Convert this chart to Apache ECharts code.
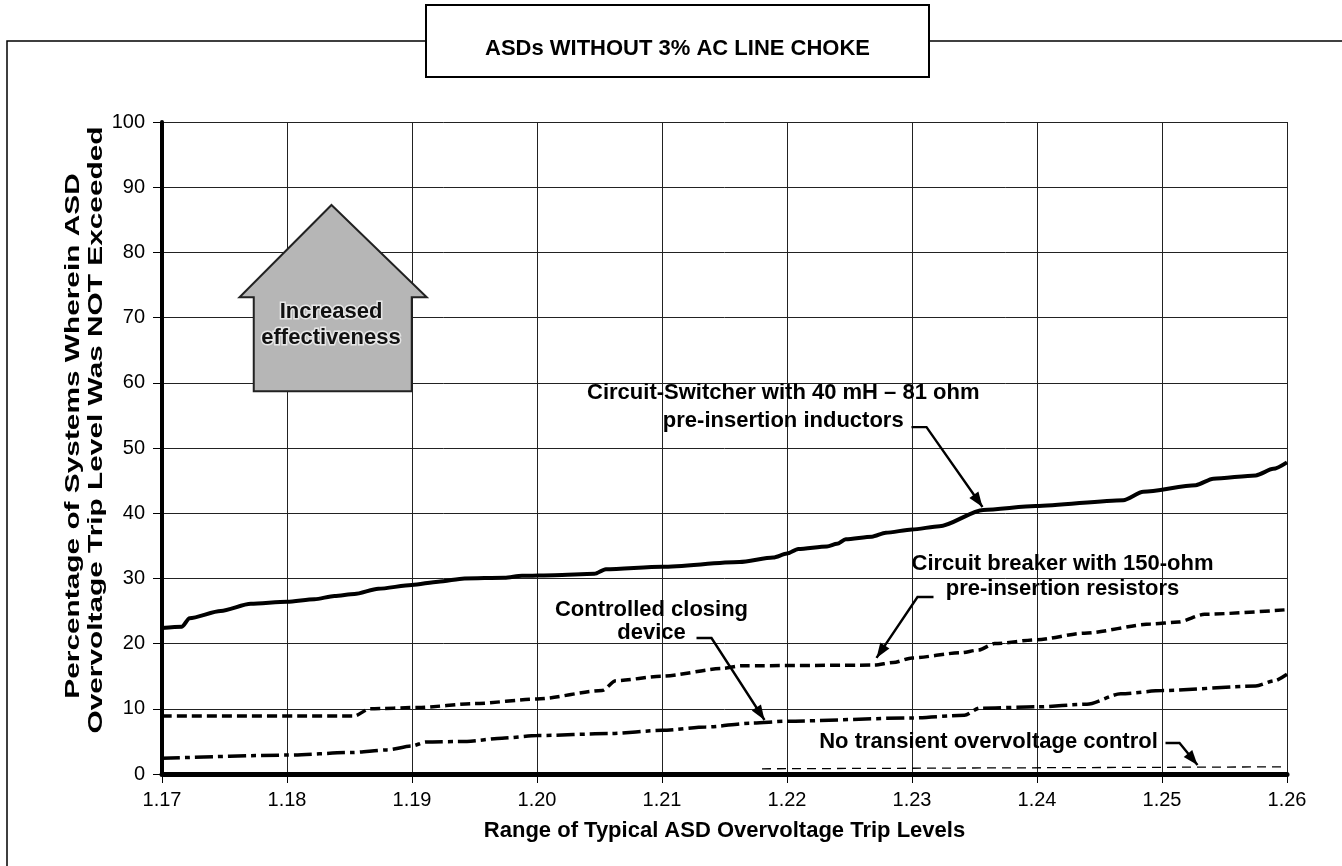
<!DOCTYPE html>
<html><head><meta charset="utf-8">
<script src="https://cdn.jsdelivr.net/npm/echarts@6/dist/echarts.min.js"></script>
<style>html,body{margin:0;padding:0;background:#fff}#c{width:1342px;height:866px}</style>
</head><body><div id="c"></div>
<script>
// ---- data ----
const xTickLabels = ['1.17','1.18','1.19','1.20','1.21','1.22','1.23','1.24','1.25','1.26'];
const yTickLabels = [0,10,20,30,40,50,60,70,80,90,100];

const switcherX = [1.17,1.1716,1.1722,1.1747,1.1771,1.18,1.1822,1.1838,1.1854,1.1873,1.19,1.1921,1.1942,1.1974,1.1988,1.2014,1.2046,1.2055,1.21,1.2162,1.2189,1.22,1.2209,1.2232,1.2240,1.2247,1.2268,1.2279,1.23,1.2322,1.2357,1.2399,1.2469,1.2485,1.2527,1.2541,1.2575,1.2589,1.26];
const switcherY = [22.4,22.6,23.9,25.0,26.1,26.4,26.8,27.3,27.6,28.4,29.0,29.5,30.0,30.1,30.4,30.5,30.7,31.4,31.8,32.5,33.2,33.8,34.5,34.9,35.3,36.0,36.4,37.0,37.5,38.0,40.5,41.1,42.0,43.3,44.3,45.3,45.8,46.8,47.8];

const breakerX = [1.17,1.1854,1.1866,1.1905,1.195,1.20,1.2052,1.2063,1.21,1.2149,1.2163,1.2270,1.2285,1.23,1.2339,1.2353,1.2366,1.24,1.2438,1.2491,1.2513,1.2534,1.26];
const breakerY = [8.9,8.9,10.0,10.2,10.8,11.5,12.8,14.3,15.0,16.2,16.6,16.7,17.1,17.8,18.6,19.0,20.0,20.6,21.6,23.0,23.3,24.5,25.2];

const controlledX = [1.17,1.18,1.1852,1.188,1.19,1.1911,1.1944,1.1972,1.20,1.2058,1.21,1.2135,1.2171,1.22,1.23,1.2342,1.2354,1.24,1.244,1.2467,1.25,1.2575,1.259,1.26];
const controlledY = [2.4,2.9,3.3,3.7,4.3,4.9,5.0,5.5,5.9,6.2,6.7,7.2,7.8,8.1,8.6,9.0,10.1,10.3,10.7,12.3,12.8,13.5,14.3,15.3];

const noControlX = [1.218,1.26];
const noControlY = [0.8,1.1];

const titleText = 'ASDs WITHOUT 3% AC LINE CHOKE';
const xAxisTitle = 'Range of Typical ASD Overvoltage Trip Levels';
const yAxisTitle1 = 'Percentage of Systems Wherein ASD';
const yAxisTitle2 = 'Overvoltage Trip Level Was NOT Exceeded';

// annotations (data coordinates)
const notes = [
  {text:'Circuit-Switcher with 40 mH \u2013 81 ohm\npre-insertion inductors', at:[1.2197,56.3], lh:28,
   leader:[[1.22996,53.2],[1.23116,53.2],[1.23564,40.95]]},
  {text:'Circuit breaker with 150-ohm\npre-insertion resistors', at:[1.24204,30.3], lh:25,
   leader:[[1.23172,27.15],[1.23044,27.15],[1.22716,17.8]]},
  {text:'Controlled closing\ndevice', at:[1.20916,23.4], lh:23,
   leader:[[1.21276,20.86],[1.21396,20.86],[1.2182,8.28]]},
  {text:'No transient overvoltage control', at:[1.23612,4.9], lh:22,
   leader:[[1.25028,4.75],[1.2514,4.75],[1.25284,1.38]]}
];
const house = {apex:[1.18356,87.27], shoulderY:73.11, wingL:1.1762, wingR:1.19118, bodyL:1.17734, bodyR:1.18998, bottom:58.7,
  text:'Increased\neffectiveness', at:[1.18352,68.9]};

const FONT = '"Liberation Sans", Arial, Helvetica, sans-serif';
const pair = (xs, ys) => xs.map((x, i) => [x, ys[i]]);

const chart = echarts.init(document.getElementById('c'), null, {renderer:'canvas'});
chart.setOption({
  animation:false,
  backgroundColor:'#fff',
  grid:{left:162,right:55,top:122,bottom:92,show:false},
  xAxis:{type:'value',min:1.17,max:1.26,interval:0.01,
    axisLine:{show:true,onZero:false,lineStyle:{color:'#000',width:5}},
    axisTick:{show:true,length:9,lineStyle:{color:'#000',width:1}},
    axisLabel:{color:'#000',fontSize:20,fontFamily:FONT,margin:16,
      formatter:(v)=>{const i=Math.round((v-1.17)/0.01);return xTickLabels[i]!==undefined?xTickLabels[i]:'';}},
    splitLine:{show:true,lineStyle:{color:'#222',width:1}}
  },
  yAxis:{type:'value',min:0,max:100,interval:10,
    axisLine:{show:true,lineStyle:{color:'#000',width:4}},
    axisTick:{show:true,length:9,lineStyle:{color:'#000',width:1}},
    axisLabel:{color:'#000',fontSize:20,fontFamily:FONT,margin:17,
      formatter:(v)=>{const i=Math.round(v/10);return yTickLabels[i]!==undefined?String(yTickLabels[i]):'';}},
    splitLine:{show:true,lineStyle:{color:'#222',width:1}}
  },
  series:[
    {name:'Circuit-Switcher',type:'line',data:pair(switcherX,switcherY),showSymbol:false,smooth:0.25,smoothMonotone:'x',
      lineStyle:{color:'#000',width:4}},
    {name:'Circuit breaker',type:'line',data:pair(breakerX,breakerY),showSymbol:false,smooth:0.25,smoothMonotone:'x',
      lineStyle:{color:'#000',width:3.5,type:[10,5]}},
    {name:'Controlled closing',type:'line',data:pair(controlledX,controlledY),showSymbol:false,smooth:0.25,smoothMonotone:'x',
      lineStyle:{color:'#000',width:3.5,type:[18,5,5,5]}},
    {name:'No transient control',type:'line',data:pair(noControlX,noControlY),showSymbol:false,
      lineStyle:{color:'#000',width:1.3,type:[9,6]}}
  ]
});

const P = (d) => chart.convertToPixel({gridIndex:0}, d);
const g = [];
// frame and title box
g.push({type:'polyline',shape:{points:[[7,866],[7,41],[426,41]]},style:{stroke:'#000',lineWidth:1.5,fill:null},silent:true});
g.push({type:'line',shape:{x1:929,y1:41,x2:1342,y2:41},style:{stroke:'#000',lineWidth:1.5},silent:true});
g.push({type:'rect',shape:{x:426,y:5,width:503,height:72},style:{stroke:'#000',lineWidth:2,fill:'#fff'},silent:true});
g.push({type:'text',x:677.5,y:49,style:{text:titleText,font:'bold 22px '+FONT,fill:'#000',align:'center',verticalAlign:'middle'},silent:true});
// axis titles
const xc = P([1.215,0]);
g.push({type:'text',x:xc[0],y:831,style:{text:xAxisTitle,font:'bold 22px '+FONT,fill:'#000',align:'center',verticalAlign:'middle'},silent:true});
g.push({type:'text',x:73,y:436,rotation:Math.PI/2,scaleX:1.42,style:{text:yAxisTitle1,font:'bold 21px '+FONT,fill:'#000',align:'center',verticalAlign:'middle'},silent:true});
g.push({type:'text',x:96,y:430,rotation:Math.PI/2,scaleX:1.42,style:{text:yAxisTitle2,font:'bold 21px '+FONT,fill:'#000',align:'center',verticalAlign:'middle'},silent:true});

// house arrow
const hp = [P(house.apex),P([house.wingR,house.shoulderY]),P([house.bodyR,house.shoulderY]),P([house.bodyR,house.bottom]),
  P([house.bodyL,house.bottom]),P([house.bodyL,house.shoulderY]),P([house.wingL,house.shoulderY])];
g.push({type:'polygon',shape:{points:hp},style:{fill:'#b6b6b6',stroke:'#222',lineWidth:2},silent:true});
const ht = P(house.at);
g.push({type:'text',x:ht[0],y:ht[1],style:{text:house.text,font:'bold 22px '+FONT,fill:'#111',stroke:'rgba(235,235,235,0.9)',lineWidth:3,
  align:'center',verticalAlign:'middle',lineHeight:26},silent:true});

// annotations with leaders and arrowheads
notes.forEach(n => {
  const c = P(n.at);
  g.push({type:'text',x:c[0],y:c[1],style:{text:n.text,font:'bold 22px '+FONT,fill:'#000',align:'center',verticalAlign:'middle',lineHeight:n.lh},silent:true});
  const pts = n.leader.map(P);
  g.push({type:'polyline',shape:{points:pts},style:{stroke:'#000',lineWidth:2.4,fill:null},silent:true});
  const A = pts[pts.length-2], B = pts[pts.length-1];
  const dx = B[0]-A[0], dy = B[1]-A[1], L = Math.hypot(dx,dy), ux = dx/L, uy = dy/L;
  const al = 15, aw = 5.5;
  const bx = B[0]-ux*al, by = B[1]-uy*al;
  g.push({type:'polygon',shape:{points:[[B[0],B[1]],[bx-uy*aw,by+ux*aw],[bx+uy*aw,by-ux*aw]]},style:{fill:'#000'},silent:true});
});
chart.setOption({graphic:g});
</script>
</body></html>
